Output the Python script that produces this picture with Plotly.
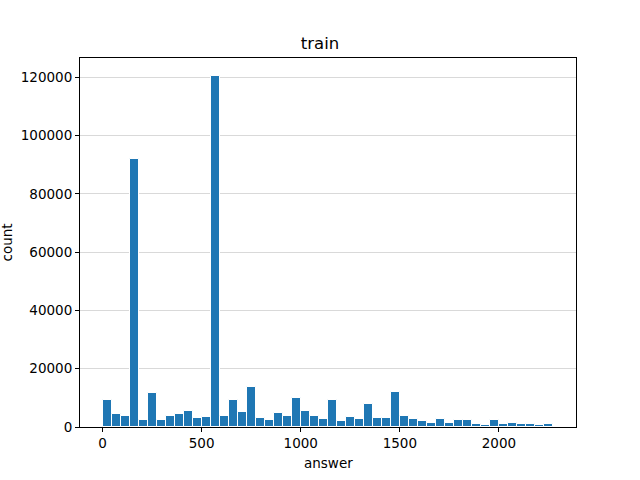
import plotly.graph_objects as go

title = "train"
x_label = "answer"
y_label = "count"

bin_start = 0.0
bin_width = 45.5
counts = [9300, 4600, 3900, 92100, 2500, 11500, 2500, 3900, 4600, 5600,
          3200, 3550, 120600, 3900, 9300, 5300, 13900, 3200, 2500, 4900,
          3900, 10100, 5600, 3900, 2900, 9300, 2200, 3550, 2900, 8000,
          3200, 3200, 12100, 3900, 2900, 2200, 1500, 2900, 1500, 2500,
          2500, 1150, 800, 2500, 1150, 1500, 1150, 1150, 800, 1150]

x_ticks = [0, 500, 1000, 1500, 2000]
y_ticks = [0, 20000, 40000, 60000, 80000, 100000, 120000]

centers = [bin_start + bin_width * (i + 0.5) for i in range(len(counts))]
x_max = bin_start + bin_width * len(counts)
pad = 0.05 * (x_max - bin_start)

fig = go.Figure(go.Bar(
    x=centers, y=counts, width=[bin_width] * len(counts),
    marker=dict(color="#1f77b4", line=dict(color="white", width=1)),
))

font = "DejaVu Sans, sans-serif"
W, H = 640, 480
L, R, T, B = 80, 64, 58, 53
fig.update_layout(
    width=W, height=H,
    margin=dict(l=L, r=R, t=T, b=B, autoexpand=False),
    paper_bgcolor="white", plot_bgcolor="white",
    font=dict(family=font, size=13.5, color="black"),
    title=dict(text=title, x=0.5, xanchor="center", y=1 - 43 / H, yanchor="middle",
               font=dict(size=16.5, family=font)),
    showlegend=False,
    bargap=0,
    annotations=[
        dict(text=x_label, xref="paper", yref="paper", x=0.5, y=-(463 - (H - B)) / (H - T - B),
             xanchor="center", yanchor="middle", showarrow=False, font=dict(size=13.5)),
        dict(text=y_label, xref="paper", yref="paper", x=-(L - 6) / (W - L - R), y=0.5,
             xanchor="center", yanchor="middle", textangle=-90, showarrow=False,
             font=dict(size=13.5)),
    ],
)
fig.update_xaxes(
    range=[bin_start - pad, x_max + pad],
    tickvals=x_ticks, ticktext=[str(v) for v in x_ticks],
    ticks="outside", ticklen=4, tickcolor="black",
    showline=True, linecolor="black", linewidth=1, mirror=True,
    showgrid=False, zeroline=False, automargin=False,
    tickfont=dict(size=13.5),
)
fig.update_yaxes(
    range=[0, max(counts) * 1.05],
    tickvals=y_ticks, ticktext=[str(v) for v in y_ticks],
    ticks="outside", ticklen=4, tickcolor="black",
    showline=True, linecolor="black", linewidth=1, mirror=True,
    showgrid=True, gridcolor="#d9d9d9", gridwidth=1, zeroline=False, automargin=False,
    tickfont=dict(size=13.5),
)

fig.write_html("out.html", config={"displayModeBar": False})

# remove the browser's default page margin so the figure sits at the window origin
with open("out.html", "r", encoding="utf-8") as f:
    html = f.read()
html = html.replace("<head>", "<head><style>html,body{margin:0;padding:0;overflow:hidden;}</style>", 1)
with open("out.html", "w", encoding="utf-8") as f:
    f.write(html)
